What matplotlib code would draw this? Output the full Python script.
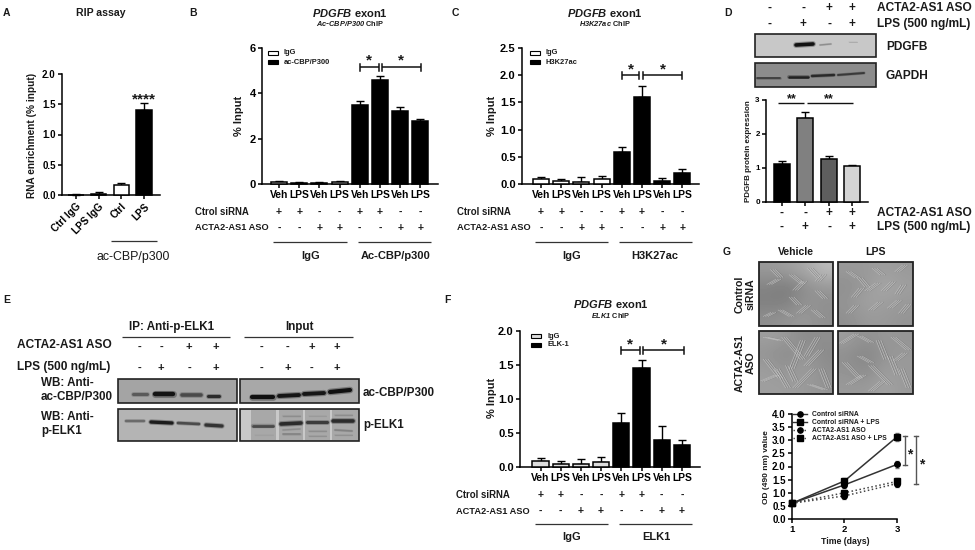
"""Multi-panel PDGFB figure (bar charts, blots, micrographs, growth curve)."""
import matplotlib

matplotlib.use("Agg")
import matplotlib.pyplot as plt
from matplotlib.patches import Rectangle

plt.rcParams["font.family"] = ["Liberation Sans", "DejaVu Sans"]
plt.rcParams["font.weight"] = "bold"
plt.rcParams["mathtext.fontset"] = "custom"
plt.rcParams["mathtext.bf"] = "Liberation Sans:bold"
plt.rcParams["mathtext.bfit"] = "Liberation Sans:italic:bold"

W, H = 975, 550
INK = "#1a1a1a"

# panel A
a_labels = ["Ctrl IgG", "LPS IgG", "Ctrl", "LPS"]
a_vals = [0.0, 0.02, 0.17, 1.41]
a_errs = [0.01, 0.03, 0.03, 0.11]
a_yticks = [0.0, 0.5, 1.0, 1.5, 2.0]

# panels B, C, F
veh_lps = ["Veh", "LPS"] * 4
siRNA_signs = ["+", "+", "-", "-", "+", "+", "-", "-"]
aso_signs = ["-", "-", "+", "+", "-", "-", "+", "+"]
b_vals = [0.10, 0.05, 0.05, 0.08, 3.50, 4.60, 3.20, 2.78]
b_errs = [0.04, 0.03, 0.04, 0.04, 0.17, 0.16, 0.20, 0.07]
c_vals = [0.09, 0.05, 0.04, 0.09, 0.58, 1.60, 0.05, 0.20]
c_errs = [0.04, 0.04, 0.08, 0.05, 0.10, 0.21, 0.06, 0.08]
f_vals = [0.09, 0.05, 0.04, 0.08, 0.64, 1.45, 0.39, 0.32]
f_errs = [0.04, 0.04, 0.08, 0.06, 0.15, 0.13, 0.22, 0.07]

# panel D
d_vals = [1.13, 2.48, 1.25, 1.05]
d_errs = [0.09, 0.18, 0.11, 0.05]
d_colors = ["#000000", "#808080", "#5e5e5e", "#d4d4d4"]
d_aso = ["-", "-", "+", "+"]
d_lps = ["-", "+", "-", "+"]

# panel G
g_days = [1, 2, 3]
g_ctrl = [0.60, 1.30, 2.08]
g_ctrl_lps = [0.60, 1.45, 3.13]
g_aso = [0.60, 0.88, 1.35]
g_aso_lps = [0.60, 1.00, 1.43]
g_err = [0.05, 0.10, 0.14]
g_names = ["Control siRNA", "Control siRNA + LPS", "ACTA2-AS1 ASO", "ACTA2-AS1 ASO + LPS"]

# blot bands: x0, y0, x1, y1, width, grey
e_bands_ac_ip = [(133, 394, 147, 394, 2.2, "#555555"), (155, 394, 173, 394, 3.2, "#0a0a0a"),
                 (182, 395, 201, 395, 2.6, "#444444"), (208, 396, 219, 396, 2.2, "#222222")]
e_bands_ac_in = [(252, 397, 273, 397, 3, "#050505"), (279, 396, 299, 395, 2.8, "#0a0a0a"),
                 (304, 394, 324, 393, 2.8, "#0a0a0a"), (330, 392, 350, 390, 3, "#050505")]
e_bands_elk_ip = [(126, 421, 144, 421, 1.7, "#666666"), (151, 422, 172, 423, 2.4, "#111111"),
                  (178, 423, 199, 424, 1.9, "#444444"), (206, 425, 222, 426, 2.4, "#2a2a2a")]
e_bands_elk_in = [(253, 426, 273, 426, 2, "#444444"), (281, 424, 301, 423, 2.6, "#222222"),
                  (307, 422, 327, 422, 2.2, "#333333"), (333, 421, 353, 421, 2.6, "#222222"),
                  (283, 434, 300, 434, 1.2, "#808080"), (335, 430, 352, 431, 1.2, "#808080"),
                  (309, 431, 326, 431, 1.0, "#8c8c8c"), (283, 416, 300, 416, 1.0, "#8c8c8c"),
                  (335, 415, 352, 415, 1.0, "#8c8c8c"), (309, 416, 326, 416, 0.8, "#999999"),
                  (283, 430, 300, 429, 1.0, "#8c8c8c"), (335, 435, 352, 435, 0.9, "#909090"),
                  (309, 436, 326, 436, 0.9, "#909090"), (255, 435, 273, 435, 0.8, "#a0a0a0")]
d_bands_pdgfb = [(796, 45, 813, 44, 2.6, "#050505"), (820, 45, 831, 44, 1.0, "#8a8a8a"),
                 (849, 42, 857, 42, 0.7, "#aaaaaa")]
d_bands_gapdh = [(757, 78, 780, 78, 1.2, "#333333"), (789, 77, 808, 77, 1.8, "#1a1a1a"),
                 (812, 76, 834, 75, 1.7, "#222222"), (838, 75, 864, 73, 1.4, "#333333")]

# micrograph streaks as fractions of the frame: x, y, dx, dy
cells_ctrl_veh = [(.2, .12, .1, .12), (.45, .2, .15, .14), (.7, .1, .12, .15), (.62, .3, -.12, .14),
                  (.8, .45, .1, .12), (.15, .35, .12, -.08), (.3, .75, .15, .1), (.55, .8, .12, -.12),
                  (.75, .75, .12, .12), (.1, .85, .1, -.06), (.45, .55, .1, .12), (.88, .2, -.08, .1)]
cells_ctrl_lps = [(.15, .15, .12, .1), (.5, .1, .1, .1), (.8, .15, .1, -.1), (.4, .45, .14, -.12),
                  (.62, .45, .12, -.14), (.22, .55, .1, -.14), (.8, .5, .08, -.14), (.7, .72, .12, -.12),
                  (.45, .75, .12, -.12), (.15, .8, .1, -.12), (.85, .8, .1, -.14), (.3, .25, .1, .14)]
cells_aso_veh = [(.1, .1, .2, .05), (.35, .1, .25, .35), (.6, .15, -.15, .45), (.8, .1, -.15, .3),
                 (.1, .45, .2, .3), (.25, .6, .15, .3), (.5, .9, .25, -.3), (.65, .55, .2, -.25),
                 (.85, .6, .1, .3), (.05, .8, .2, -.1), (.4, .55, .1, .25), (.7, .85, .2, .08)]
cells_aso_lps = [(.05, .2, .2, -.15), (.3, .08, .15, .1), (.55, .15, .1, .3), (.75, .1, .2, .2),
                 (.1, .5, .2, .25), (.3, .4, .15, .1), (.45, .55, .25, .3), (.7, .4, .1, .3),
                 (.85, .6, .1, .3), (.15, .85, .2, -.15), (.6, .8, -.15, .15), (.9, .35, -.12, .12)]
# coarse brightness of each micrograph, read row by row
shade_ctrl_veh = [[.60, .62, .66, .74], [.52, .48, .56, .60], [.50, .50, .58, .56], [.56, .58, .60, .56]]
shade_ctrl_lps = [[.60, .60, .62, .60], [.56, .60, .66, .62], [.58, .64, .62, .60], [.56, .60, .60, .58]]
shade_aso_veh = [[.62, .60, .54, .56], [.58, .54, .60, .54], [.62, .58, .62, .56], [.62, .62, .60, .58]]
shade_aso_lps = [[.62, .56, .60, .58], [.56, .52, .58, .60], [.58, .54, .62, .60], [.60, .60, .64, .60]]

fig = plt.figure(figsize=(W / 100, H / 100), dpi=100)
ov = fig.add_axes([0, 0, 1, 1])
ov.set_xlim(0, W)
ov.set_ylim(H, 0)
ov.axis("off")


def txt(x, y, s, size=6.3, ha="left", va="center", **kw):
    ov.text(x, y, s, fontsize=size, ha=ha, va=va, color=INK, **kw)


def hline(x0, x1, y, lw=0.9, color="#333333"):
    ov.plot([x0, x1], [y, y], color=color, lw=lw, solid_capstyle="butt")


def bracket(x0, x1, y):
    hline(x0, x1, y, lw=1.1, color="#111111")
    for x in (x0, x1):
        ov.plot([x, x], [y - 3.5, y + 3.5], color="#111111", lw=1.1)


def plot_axes(left, right, top, bottom, ymax, x0=None, dx=None):
    ax = fig.add_axes([left / W, 1 - bottom / H, (right - left) / W, (bottom - top) / H])
    ax.patch.set_alpha(0)
    ax.set_ylim(0, ymax)
    if x0 is not None:
        ax.set_xlim((left - x0) / dx, (right - x0) / dx)
    ax.spines[["top", "right"]].set_visible(False)
    ax.spines[["left", "bottom"]].set_linewidth(1.1)
    ax.tick_params(width=1.1, length=3, pad=1.5)
    return ax


def draw_bars(ax, vals, errs, colors, width=0.8, lw=1.1):
    xs = list(range(len(vals)))
    ax.bar(xs, vals, width=width, color=colors, edgecolor="black", linewidth=lw, clip_on=False, zorder=3)
    ax.errorbar(xs, vals, yerr=[[0] * len(errs), errs], fmt="none", ecolor="black",
                elinewidth=1.0, capsize=3.2, capthick=1.0, clip_on=False, zorder=2)
    ax.set_xticks(xs)


def chip_panel(left, right, x0, ymax, bottom, top, vals, errs, yticks, yfmt, fill, ticksize):
    ax = plot_axes(left, right, top, bottom, ymax, x0, 20.2)
    draw_bars(ax, vals, errs, [fill] * 4 + ["black"] * 4)
    ax.set_xticklabels(veh_lps, fontsize=7.4)
    ax.set_yticks(yticks)
    ax.set_yticklabels([yfmt.format(t) for t in yticks], fontsize=ticksize)
    return ax


def sign_rows(xs, signs_a, signs_b, y_a, y_b, size=7.5):
    for x, a, b in zip(xs, signs_a, signs_b):
        txt(x, y_a, a, size=size, ha="center")
        txt(x, y_b, b, size=size, ha="center")


def chip_annot(row_left, x0, y_rows, y_line, y_group, line1, line2, g1, g2, leg_x, leg_y, leg2, fill):
    txt(row_left, y_rows[0], "Ctrol siRNA", size=6.9)
    txt(row_left, y_rows[1], "ACTA2-AS1 ASO", size=6.7)
    xs = [x0 + i * 20.2 for i in range(8)]
    sign_rows(xs, siRNA_signs, aso_signs, y_rows[0], y_rows[1], size=7.5)
    hline(*line1, y_line)
    hline(*line2, y_line)
    txt(g1[0], y_group, g1[1], size=8, ha="center")
    txt(g2[0], y_group, g2[1], size=8, ha="center")
    ov.add_patch(Rectangle((leg_x, leg_y - 2), 10, 4, fc=fill, ec="black", lw=0.8))
    ov.add_patch(Rectangle((leg_x, leg_y + 7), 10, 4, fc="black", ec="black", lw=0.8))
    txt(leg_x + 16, leg_y, "IgG", size=5.4)
    txt(leg_x + 16, leg_y + 9, leg2, size=5.4)


def blot(x0, y0, x1, y1, bg, bands, lanes=()):
    ov.add_patch(Rectangle((x0, y0), x1 - x0, y1 - y0, fc=bg, ec="#222222", lw=1.2, zorder=1))
    for lx0, lx1 in lanes:
        ov.add_patch(Rectangle((lx0, y0 + 1), lx1 - lx0, y1 - y0 - 2, fc="#e6e6e6", ec="none", alpha=0.55, zorder=1.1))
    for bx0, by0, bx1, by1, bw, grey in bands:
        ov.plot([bx0, bx1], [by0, by1], color=grey, lw=bw * 1.6, alpha=0.3, zorder=2, solid_capstyle="round")
        ov.plot([bx0, bx1], [by0, by1], color=grey, lw=bw, alpha=0.9, zorder=2.1, solid_capstyle="round")


def micro(x0, y0, x1, y1, cells, shade):
    ov.imshow(shade, extent=(x0, x1, y1, y0), cmap="gray", vmin=0, vmax=1, aspect="auto",
              interpolation="bicubic", zorder=1)
    ov.add_patch(Rectangle((x0, y0), x1 - x0, y1 - y0, fc="none", ec="#222222", lw=1.3, zorder=3))
    w, h = x1 - x0, y1 - y0
    for cx, cy, dx, dy in cells:
        xs = [x0 + cx * w, x0 + (cx + dx) * w]
        ys = [y0 + cy * h, y0 + (cy + dy) * h]
        # fibroblasts read as small bundles of thin bright lines
        for shift in (-2.4, 0, 2.4):
            ov.plot([x + shift for x in xs], ys, color="#5e5e5e", lw=0.6, alpha=0.45, zorder=2)
            ov.plot([x + shift - 0.6 for x in xs], ys, color="#d2d2d2", lw=0.5, alpha=0.7, zorder=2.1)


# --- panel letters and titles
for x, y, s in [(3, 13, "A"), (189, 13, "B"), (452, 13, "C"), (724, 13, "D"),
                (3, 300, "E"), (444, 300, "F"), (723, 252, "G")]:
    txt(x, y, s, size=7.5)
txt(101, 13, "RIP assay", size=7.6, ha="center")
pdgfb = r"$\mathbfit{PDGFB}$ exon1"
txt(350, 13, pdgfb, size=8, ha="center")
txt(350, 24, r"$\mathbfit{Ac\text{-}CBP/P300}$ ChIP", size=5.3, ha="center")
txt(605, 13, pdgfb, size=8, ha="center")
txt(605, 24, r"$\mathbfit{H3K27ac}$ ChIP", size=5.3, ha="center")
txt(611, 304, pdgfb, size=8, ha="center")
txt(611, 315, r"$\mathbfit{ELK1}$ ChIP", size=5.3, ha="center")

# --- panel A
ax = plot_axes(62, 160, 74, 195, 2.0, 76, 22.7)
draw_bars(ax, a_vals, a_errs, ["white", "white", "white", "black"], width=0.68)
ax.set_xticklabels(a_labels, fontsize=7.2, rotation=45, ha="right", rotation_mode="anchor")
ax.set_yticks(a_yticks)
ax.set_yticklabels([f"{t:.1f}" for t in a_yticks], fontsize=7)
txt(32, 135, "RNA enrichment (% input)", size=7.3, ha="center", rotation=90)
txt(144, 99, "****", size=11, ha="center")
hline(111, 157, 241)
txt(133, 257, "ac-CBP/p300", size=8.9, ha="center", fontweight="normal")

# --- panel B
chip_panel(262, 438, 279, 6, 184, 48, b_vals, b_errs, [0, 2, 4, 6], "{:d}", "white", 8)
txt(239, 116, "% Input", size=8, ha="center", rotation=90)
chip_annot(195, 279, (212, 228), 242, 256, (273, 347), (358, 431), (311, "IgG"), (396, "Ac-CBP/p300"),
           268, 53, "ac-CBP/P300", "white")
bracket(360, 379, 67)
bracket(382, 421, 67)
txt(369, 60, "*", size=11, ha="center")
txt(401, 60, "*", size=11, ha="center")

# --- panel C
chip_panel(522, 699, 541, 2.5, 184, 48, c_vals, c_errs, [0, 0.5, 1, 1.5, 2, 2.5], "{:.1f}", "white", 8)
txt(492, 116, "% Input", size=8, ha="center", rotation=90)
chip_annot(457, 541, (212, 228), 242, 256, (535, 608), (619, 692), (572, "IgG"), (655, "H3K27ac"),
           530, 53, "H3K27ac", "white")
bracket(622, 639, 75)
bracket(643, 682, 75)
txt(631, 69, "*", size=11, ha="center")
txt(663, 69, "*", size=11, ha="center")

# --- panel F
chip_panel(520, 700, 540.5, 2.0, 467, 331, f_vals, f_errs, [0, 0.5, 1, 1.5, 2], "{:.1f}", "#dcdcdc", 8)
txt(492, 398, "% Input", size=8, ha="center", rotation=90)
chip_annot(456, 540.5, (495, 511), 524, 537, (535, 608), (619, 692), (572, "IgG"), (656, "ELK1"),
           531, 336, "ELK-1", "#dcdcdc")
bracket(621, 640, 350)
bracket(643, 684, 350)
txt(630, 344, "*", size=11, ha="center")
txt(664, 344, "*", size=11, ha="center")

# --- panel D
d_x = [782, 805, 829, 852]
sign_rows([770, 803, 829, 852], d_aso, d_lps, 8, 24, size=8.5)
txt(877, 8, "ACTA2-AS1 ASO", size=8.6)
txt(877, 24, "LPS (500 ng/mL)", size=8.6)
blot(755, 34, 876, 57, "#c8c8c8", d_bands_pdgfb)
blot(755, 63, 876, 87, "#8c8c8c", d_bands_gapdh)
txt(886, 47, "PDGFB", size=8.6)
txt(886, 76, "GAPDH", size=8.6)
ax = plot_axes(766, 868, 100, 202, 3, 782, 23.4)
draw_bars(ax, d_vals, d_errs, d_colors, width=0.68)
ax.set_xticklabels([])
ax.set_yticks([0, 1, 2, 3])
ax.set_yticklabels(["0", "1", "2", "3"], fontsize=5.8)
txt(748, 151, "PDGFB protein expression", size=5.8, ha="center", rotation=90)
hline(778, 804, 103, lw=1.0, color="#111111")
hline(807, 853, 103, lw=1.0, color="#111111")
txt(792, 99, "**", size=9, ha="center")
txt(829, 99, "**", size=9, ha="center")
sign_rows(d_x, d_aso, d_lps, 213, 227, size=8.5)
txt(877, 213, "ACTA2-AS1 ASO", size=8.6)
txt(877, 227, "LPS (500 ng/mL)", size=8.6)

# --- panel E
txt(172, 327, "IP: Anti-p-ELK1", size=8.4, ha="center")
txt(299, 327, "Input", size=8.4, ha="center")
hline(122, 230, 337)
hline(244, 353, 337)
txt(17, 345, "ACTA2-AS1 ASO", size=8.6)
txt(17, 367, "LPS (500 ng/mL)", size=8.6)
sign_rows([139, 161, 189, 216], d_aso, d_lps, 347, 368, size=8)
sign_rows([261, 288, 312, 337], d_aso, d_lps, 347, 368, size=8)
txt(41, 383, "WB: Anti-", size=8.4)
txt(41, 397, "ac-CBP/P300", size=8.4)
txt(41, 417, "WB: Anti-", size=8.4)
txt(41, 431, "p-ELK1", size=8.4)
blot(118, 379, 237, 403, "#a4a4a4", e_bands_ac_ip)
blot(240, 379, 359, 403, "#a8a8a8", e_bands_ac_in)
blot(118, 409, 237, 441, "#b4b4b4", e_bands_elk_ip)
blot(240, 409, 359, 441, "#a8a8a8", e_bands_elk_in, lanes=[(241, 251), (276, 279), (303, 305), (330, 332)])
txt(363, 393, "ac-CBP/P300", size=8.4)
txt(363, 425, "p-ELK1", size=8.4)

# --- panel G
txt(796, 252, "Vehicle", size=7.6, ha="center")
txt(875, 252, "LPS", size=7.6, ha="center")
micro(759, 262, 833, 326, cells_ctrl_veh, shade_ctrl_veh)
micro(838, 262, 913, 326, cells_ctrl_lps, shade_ctrl_lps)
micro(759, 331, 833, 394, cells_aso_veh, shade_aso_veh)
micro(838, 331, 913, 394, cells_aso_lps, shade_aso_lps)
ov.set_xlim(0, W)
ov.set_ylim(H, 0)
txt(745, 294, "Control\nsiRNA", size=7.6, ha="center", rotation=90, linespacing=1.1, multialignment="center")
txt(745, 363, "ACTA2-AS1\nASO", size=7.6, ha="center", rotation=90, linespacing=1.1, multialignment="center")

ax = plot_axes(792, 897, 414, 519, 4.0)
ax.set_xlim(1, 3)
styles = [(g_ctrl, "o", "-", "#333333"), (g_ctrl_lps, "s", "-", "#333333"),
          (g_aso, "o", ":", "#444444"), (g_aso_lps, "s", ":", "#444444")]
for vals, marker, ls, col in styles:
    ax.errorbar(g_days, vals, yerr=g_err, color=col, ls=ls, lw=1.1, marker=marker, ms=4,
                mfc="black", mec="black", ecolor="#777777", elinewidth=0.7, capsize=1.6, clip_on=False, zorder=3)
ax.set_xticks(g_days)
ax.set_xticklabels(["1", "2", "3"], fontsize=6.8)
ax.set_yticks([0, 0.5, 1, 1.5, 2, 2.5, 3, 3.5, 4])
ax.set_yticklabels([f"{t:.1f}" for t in ax.get_yticks()], fontsize=7)
txt(767, 467, "OD (490 nm) value", size=6, ha="center", rotation=90)
txt(845, 542, "Time (days)", size=6.3, ha="center")
for i, (name, (_, marker, ls, col)) in enumerate(zip(g_names, styles)):
    y = 414 + i * 8
    ov.plot([793, 807], [y, y], color=col, ls=ls, lw=1.0, marker=None, zorder=4)
    ov.plot([800], [y], marker=marker, ms=3.8, color="black", zorder=4)
    txt(812, y, name, size=4.9)
for x, y1 in [(905, 465), (916, 484)]:
    ov.plot([x, x], [436, y1], color="#555555", lw=1.0)
    ov.plot([x - 2, x + 2], [436, 436], color="#555555", lw=1.0)
    ov.plot([x - 2, x + 2], [y1, y1], color="#555555", lw=1.0)
txt(910, 454, "*", size=10, ha="center")
txt(922, 464, "*", size=10, ha="center")

fig.savefig("out.png", dpi=100)
plt.close(fig)
